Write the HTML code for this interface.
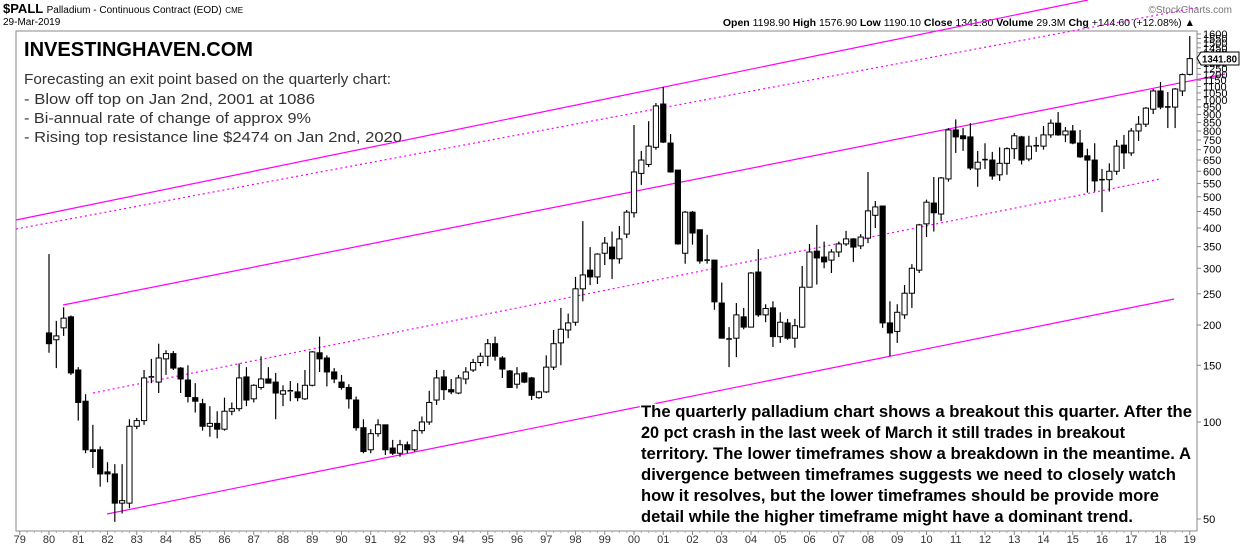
<!DOCTYPE html>
<html><head><meta charset="utf-8"><style>
html,body{margin:0;padding:0;background:#fff;}
svg{display:block;font-family:"Liberation Sans",Arial,sans-serif;}
</style></head><body>
<svg id="chart" width="1240" height="546" viewBox="0 0 1240 546" xmlns="http://www.w3.org/2000/svg">
<rect width="1240" height="546" fill="#fff"/>
<g>
<text x="3" y="13" font-size="13" font-weight="bold" fill="#000">$PALL <tspan font-size="10" font-weight="normal">Palladium - Continuous Contract (EOD)</tspan> <tspan font-size="8" font-weight="normal">CME</tspan></text>
<text x="3" y="25" font-size="10" fill="#000">29-Mar-2019</text>
<text x="1232" y="13" font-size="10" fill="#777" text-anchor="end">©StockCharts.com</text>
<text x="1195" y="26" font-size="10.5" fill="#000" text-anchor="end"><tspan font-weight="bold">Open</tspan> 1198.90  <tspan font-weight="bold">High</tspan> 1576.90  <tspan font-weight="bold">Low</tspan> 1190.10  <tspan font-weight="bold">Close</tspan> 1341.80  <tspan font-weight="bold">Volume</tspan> 29.3M  <tspan font-weight="bold">Chg</tspan> +144.60 (+12.08%) ▲</text>
</g>
<g id="frame">
<path d="M16,31 H1197 V531 H16 Z" fill="none" stroke="#888" stroke-width="1"/>
</g>
<g id="trend"></g>
<g id="candles"></g>
<g id="yaxis"></g>
<g id="xaxis"></g>
<g>
<text x="24" y="56" font-size="20" font-weight="bold" fill="#000" textLength="229" lengthAdjust="spacingAndGlyphs">INVESTINGHAVEN.COM</text>
<text x="24" y="84" font-size="15" fill="#333" textLength="367" lengthAdjust="spacingAndGlyphs">Forecasting an exit point based on the quarterly chart:</text>
<text x="24" y="104" font-size="15" fill="#333" textLength="291" lengthAdjust="spacingAndGlyphs">- Blow off top on Jan 2nd, 2001 at 1086</text>
<text x="24" y="123" font-size="15" fill="#333" textLength="287" lengthAdjust="spacingAndGlyphs">- Bi-annual rate of change of approx 9%</text>
<text x="24" y="142" font-size="15" fill="#333" textLength="378" lengthAdjust="spacingAndGlyphs">- Rising top resistance line $2474 on Jan 2nd, 2020</text>
</g>
<g>
<path d="M1197,58 L1201,52 H1239 V65 H1201 Z" fill="#fff" stroke="#000" stroke-width="1"/>
<text x="1202" y="62.5" font-size="10" font-weight="bold" fill="#000" textLength="35" lengthAdjust="spacingAndGlyphs">1341.80</text>
</g>
<g id="note" font-size="17" font-weight="bold" fill="#000" stroke="#fff" stroke-width="3" paint-order="stroke">
<text x="641" y="417" textLength="551" lengthAdjust="spacingAndGlyphs">The quarterly palladium chart shows a breakout this quarter. After the</text>
<text x="641" y="438" textLength="484" lengthAdjust="spacingAndGlyphs">20 pct crash in the last week of March it still trades in breakout</text>
<text x="641" y="459" textLength="550" lengthAdjust="spacingAndGlyphs">territory. The lower timeframes show a breakdown in the meantime. A</text>
<text x="641" y="480" textLength="535" lengthAdjust="spacingAndGlyphs">divergence between timeframes suggests we need to closely watch</text>
<text x="641" y="501" textLength="518" lengthAdjust="spacingAndGlyphs">how it resolves, but the lower timeframes should be provide more</text>
<text x="641" y="522" textLength="492" lengthAdjust="spacingAndGlyphs">detail while the higher timeframe might have a dominant trend.</text>
</g>
</svg>
<script>
const opens =[189,180,196,212,145,116,82,82,70,69,56,56,97,101,137,133,157,163,147,135,119,114,97,99,95,108,110,138,118,128,136,133,122,125,124,118,130,164,158,143,133,128,117,96,82,92,98,83,80,85,82,94,100,117,138,126,123,136,145,153,160,175,158,144,131,142,137,119,124,148,176,193,204,259,296,282,334,349,321,383,446,591,630,712,970,734,605,334,448,395,318,318,234,181,182,212,197,292,215,226,184,203,182,197,262,339,325,318,337,357,370,352,372,438,468,203,191,215,251,296,412,478,442,568,806,773,767,610,652,650,585,635,705,767,655,718,718,778,846,778,800,734,670,650,562,565,600,723,684,800,840,935,1065,950,949,1065,1198.9];
const highs =[332,206,227,214,148,122,98,84,75,74,74,102,103,145,157,175,167,166,148,150,132,118,112,108,119,115,152,148,131,160,148,142,130,134,132,145,166,184,161,147,140,131,120,102,95,102,98,88,88,87,95,104,125,145,145,136,140,148,157,164,181,184,160,145,148,143,138,125,161,193,226,217,282,420,349,334,375,390,406,455,835,694,858,977,1095,783,605,452,452,395,381,318,271,197,234,226,292,344,232,237,219,209,209,305,357,409,363,344,363,392,372,383,597,485,468,237,232,266,309,412,490,576,576,817,869,817,846,694,733,689,712,712,789,773,773,767,829,869,916,823,835,806,705,733,610,635,750,778,817,890,949,1080,1136,1057,1088,1207,1576.9];
const lows  =[164,147,185,140,101,80,72,63,65,49,52,54,95,98,132,123,140,145,123,115,107,94,90,89,94,105,108,112,115,126,132,102,112,116,116,117,129,143,129,132,126,110,94,80,80,90,79,79,78,80,81,92,98,113,117,122,122,131,143,149,149,155,137,128,127,132,117,118,123,145,150,182,199,237,266,268,307,278,310,372,431,544,618,700,734,594,355,310,355,310,310,223,182,148,159,194,197,212,204,171,176,180,170,196,262,267,300,290,325,352,314,344,359,400,196,160,176,209,226,290,375,390,420,557,684,694,605,537,610,565,560,585,655,630,645,689,700,762,773,739,728,660,515,519,448,519,585,610,670,745,823,903,935,817,817,1027,1190.1];
const closes=[175,185,210,142,115,82,81,69,69,56,57,97,101,137,138,158,163,147,136,120,116,97,99,95,108,110,137,117,130,136,132,123,125,124,119,130,165,157,143,136,128,118,96,81,92,98,82,80,85,82,94,100,115,137,126,124,137,143,153,160,175,160,146,128,141,133,121,124,148,175,194,203,259,286,282,332,359,321,370,448,597,650,718,957,739,597,357,448,386,316,316,236,182,180,215,197,290,215,225,184,204,182,199,262,337,323,314,337,357,370,349,375,452,465,203,189,219,251,300,409,481,446,572,806,767,757,614,640,648,580,635,705,773,650,718,720,778,846,778,800,734,665,650,560,565,600,718,684,800,840,942,1065,949,946,1080,1197,1341.8];
const yTicks=[50,100,150,200,250,300,350,400,450,500,550,600,650,700,750,800,850,900,950,1000,1050,1100,1150,1200,1250,1300,1350,1400,1450,1500,1550,1600];
const yearLabels=['79','80','81','82','83','84','85','86','87','88','89','90','91','92','93','94','95','96','97','98','99','00','01','02','03','04','05','06','07','08','09','10','11','12','13','14','15','16','17','18','19'];

const NS='http://www.w3.org/2000/svg';
function mk(tag,attrs,parent){const e=document.createElementNS(NS,tag);for(const k in attrs)e.setAttribute(k,attrs[k]);parent.appendChild(e);return e;}
function xq(i){return 49+i*7.3125;}
function xYear(j){return 19.75+j*29.25;}
function yv(v){return 519-97*Math.log2(v/50);}

const cg=document.getElementById('candles');
for(let i=0;i<opens.length;i++){
  const x=xq(i),o=opens[i],c=closes[i],h=highs[i],l=lows[i];
  const g=mk('g',{},cg);
  
  
  const yo=yv(o),yc=yv(c);
  const top=Math.min(yo,yc),bot=Math.max(yo,yc);
  const up=c>=o;
  mk('line',{x1:x,x2:x,y1:yv(h),y2:top,stroke:'#000','stroke-width':1.2},g);
  mk('line',{x1:x,x2:x,y1:bot,y2:yv(l),stroke:'#000','stroke-width':1.2},g);
  const hgt=Math.max(bot-top,1);
  if(hgt<=1.5){
    mk('line',{x1:x-2.8,x2:x+2.8,y1:top,y2:top,stroke:'#000','stroke-width':1.6},g);
  } else {
    mk('rect',{x:x-2.6,y:top,width:5.2,height:hgt,fill:up?'#fff':'#000',stroke:'#000','stroke-width':1},g);
  }
}

const tg=document.getElementById('trend');
const lines=[[16,220,1088,0,false],[16,229,1200,7,true],[63,305,1225,74,false],[93,393,1160,179,true],[107,514,1174,299,false]];
lines.forEach(function(L){
  const ln=mk('line',{x1:L[0],y1:L[1],x2:L[2],y2:L[3],stroke:'#ff00ff','stroke-width':1.2},tg);
  
  
  if(L[4]) ln.setAttribute('stroke-dasharray','2,3');
});

const yg=document.getElementById('yaxis');
yTicks.forEach(function(v){
  const y=yv(v);
  mk('line',{x1:1197,x2:1201,y1:y,y2:y,stroke:'#888','stroke-width':1},yg);
  const t=mk('text',{x:1203,y:y+4,'font-size':11,fill:'#000'},yg);
  
  
  t.textContent=String(v);
});

const xg=document.getElementById('xaxis');
yearLabels.forEach(function(lab,j){
  const x=xYear(j);
  mk('line',{x1:x,x2:x,y1:531,y2:535,stroke:'#888','stroke-width':1},xg);
  for(let q=1;q<4;q++){
    const xm=x+q*7.3125;
    if(xm<1197) mk('line',{x1:xm,x2:xm,y1:531,y2:533,stroke:'#aaa','stroke-width':1},xg);
  }
  const t=mk('text',{x:x,y:543,'font-size':11,fill:'#333','text-anchor':'middle'},xg);
  
  
  t.textContent=lab;
});
</script>
</body></html>
